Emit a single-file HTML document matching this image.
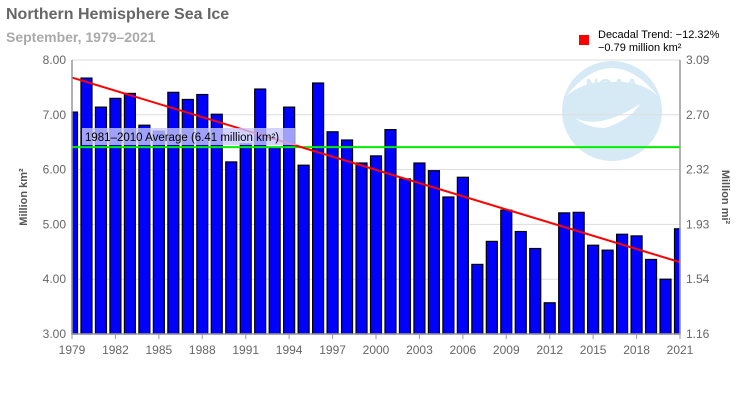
<!DOCTYPE html>
<html><head><meta charset="utf-8"><style>
body{margin:0;background:#fff;font-family:"Liberation Sans",sans-serif}
</style></head><body>
<svg width="750" height="400" xmlns="http://www.w3.org/2000/svg" font-family="Liberation Sans, sans-serif">
<text x="6" y="19" font-size="16" font-weight="bold" fill="#666">Northern Hemisphere Sea Ice</text>
<text x="6" y="42" font-size="14" font-weight="bold" fill="#aaa">September, 1979–2021</text>
<g>
<circle cx="612" cy="111" r="50" fill="#d6eaf5"/>
<path d="M566 96 Q612 40 658 96 Q640 80 612 82 Q586 80 566 96Z" fill="#fff"/>
<text x="612" y="92" font-size="18" font-weight="bold" fill="#d6eaf5" text-anchor="middle">NOAA</text>
<path d="M575 118 Q600 130 640 104 Q630 120 605 128 Q588 128 575 118Z" fill="#fff"/>
</g>
<g id="grid"></g><g id="bars"></g><g id="overlay"></g><g id="axes"></g>
<g>
<rect x="579" y="35" width="10" height="10" fill="#ff0000"/>
<text x="598" y="38" font-size="11" fill="#000">Decadal Trend: −12.32%</text>
<text x="598" y="51" font-size="11" fill="#000">−0.79 million km²</text>
</g>
<text transform="translate(27,197) rotate(-90)" font-size="11" font-weight="bold" fill="#555" text-anchor="middle">Million km²</text>
<text transform="translate(722,197) rotate(90)" font-size="11" font-weight="bold" fill="#555" text-anchor="middle">Million mi²</text>
</svg>
<script>
const years=[1979,1980,1981,1982,1983,1984,1985,1986,1987,1988,1989,1990,1991,1992,1993,1994,1995,1996,1997,1998,1999,2000,2001,2002,2003,2004,2005,2006,2007,2008,2009,2010,2011,2012,2013,2014,2015,2016,2017,2018,2019,2020,2021];
const extent=[7.05,7.67,7.14,7.30,7.39,6.81,6.70,7.41,7.28,7.37,7.01,6.14,6.47,7.47,6.40,7.14,6.08,7.58,6.69,6.54,6.12,6.25,6.73,5.83,6.12,5.98,5.50,5.86,4.27,4.69,5.26,4.87,4.56,3.57,5.21,5.22,4.62,4.53,4.82,4.79,4.36,4.00,4.92];
const leftTicks=[3,4,5,6,7,8];
const leftTickLabels=["3.00","4.00","5.00","6.00","7.00","8.00"];
const rightTickLabels=["1.16","1.54","1.93","2.32","2.70","3.09"];
const xTickYears=[1979,1982,1985,1988,1991,1994,1997,2000,2003,2006,2009,2012,2015,2018,2021];
const average=[6.41];
const trendStartEnd=[7.68,4.31];
const L=72,R=680,T=60,B=334,NS="http://www.w3.org/2000/svg";
const x=y=>L+(y-years[0])*(R-L)/(years[years.length-1]-years[0]);
const yv=v=>B-(v-3)*(B-T)/5;
function mk(p,t,a){const e=document.createElementNS(NS,t);for(const k in a)e.setAttribute(k,a[k]);document.getElementById(p).appendChild(e);return e;}
leftTicks.forEach((v,i)=>{
 const g=mk('grid','line',{x1:L,x2:R,y1:yv(v),y2:yv(v),stroke:'#ddd','stroke-width':1});
 
 const t=mk('axes','text',{x:L-6,y:yv(v)+4,'font-size':12,fill:'#666','text-anchor':'end'});t.textContent=leftTickLabels[i];
 
 const t2=mk('axes','text',{x:R+6,y:yv(v)+4,'font-size':12,fill:'#666'});t2.textContent=rightTickLabels[i];
 
});
const bw=11;
years.forEach((yr,i)=>{
 let x0=x(yr)-bw/2,x1=x(yr)+bw/2;x0=Math.max(x0,L);x1=Math.min(x1,R);
 const b=mk('bars','rect',{x:x0,y:yv(extent[i]),width:x1-x0,height:B-yv(extent[i]),fill:'#0000ff',stroke:'#000','stroke-width':1.2});
 
});
const al=mk('overlay','line',{x1:L,x2:R,y1:yv(average[0]),y2:yv(average[0]),stroke:'#00ee00','stroke-width':2});

const tl=mk('overlay','line',{x1:L,x2:R,y1:yv(trendStartEnd[0]),y2:yv(trendStartEnd[1]),stroke:'#ff0000','stroke-width':2});

const lb=mk('overlay','rect',{x:82,y:128,width:214,height:17,fill:'#c8c8ff','fill-opacity':0.8});

const lt=mk('overlay','text',{x:85,y:141,'font-size':11.5,fill:'#000'});lt.textContent='1981–2010 Average (6.41 million km²)';

[[L,T,L,B],[R,T,R,B],[L,B,R,B]].forEach(c=>{const a=mk('axes','line',{x1:c[0],y1:c[1],x2:c[2],y2:c[3],stroke:'#999','stroke-width':1.5});
 });
xTickYears.forEach(yr=>{
 const tk=mk('axes','line',{x1:x(yr),x2:x(yr),y1:B,y2:B+5,stroke:'#999'});
 
 const t=mk('axes','text',{x:x(yr),y:354,'font-size':12,fill:'#666','text-anchor':'middle'});t.textContent=yr;
 
});
</script>
</body></html>
